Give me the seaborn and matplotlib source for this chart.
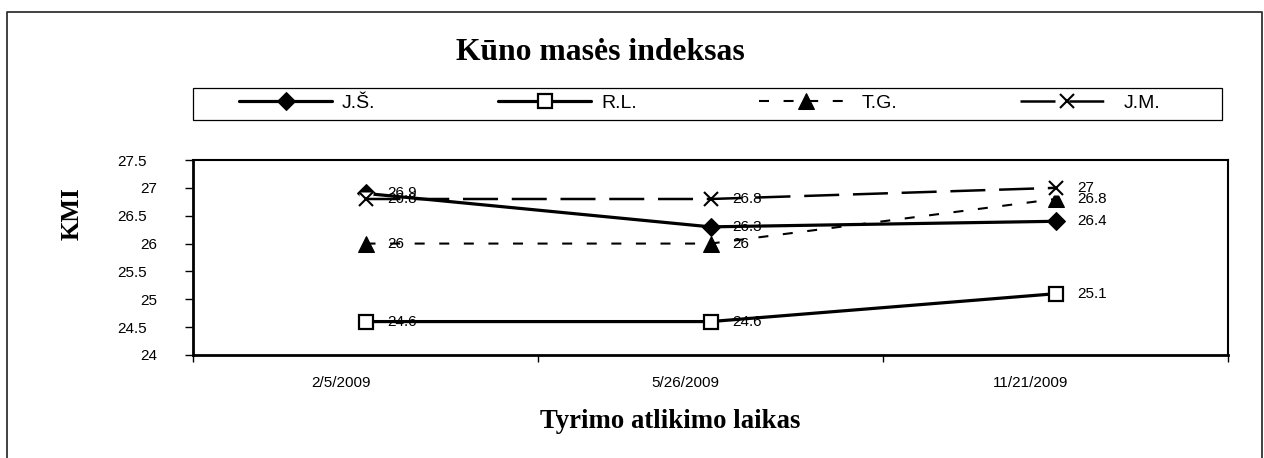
import matplotlib
matplotlib.use("Agg")
import matplotlib.pyplot as plt
import matplotlib.transforms as mtransforms
from matplotlib.lines import Line2D
from matplotlib.patches import Rectangle
import seaborn as sns
import pandas as pd

# ---- data ----
dates = ["2/5/2009", "5/26/2009", "11/21/2009"]
js = [26.9, 26.3, 26.4]
rl = [24.6, 24.6, 25.1]
tg = [26.0, 26.0, 26.8]
jm = [26.8, 26.8, 27.0]
series_names = ["J.Š.", "R.L.", "T.G.", "J.M."]
y_ticks = [24, 24.5, 25, 25.5, 26, 26.5, 27, 27.5]
title = "Kūno masės indeksas"
xlabel = "Tyrimo atlikimo laikas"
ylabel = "KMI"

sns.set_style("white")
plt.rcParams["font.family"] = ["Liberation Sans", "DejaVu Sans"]
for k in ["text.color", "axes.labelcolor", "xtick.color", "ytick.color", "axes.edgecolor"]:
    plt.rcParams[k] = "black"

W, H = 1264, 458
fig = plt.figure(figsize=(W / 100, H / 100), dpi=100)
ax = fig.add_axes([193 / W, 1 - 355 / H, (1228 - 193) / W, (355 - 160) / H])

x = list(range(len(dates)))
styles = [
    dict(data=js, marker="D", ms=9, mfc="black", mec="black", lw=2.3, ls="-"),
    dict(data=rl, marker="s", ms=10, mfc="white", mec="black", mew=1.6, lw=2.3, ls="-"),
    dict(data=tg, marker="^", ms=11, mfc="black", mec="black", lw=1.5, ls=(0, (4.8, 7.0))),
    dict(data=jm, marker="x", ms=10, mfc="none", mec="black", mew=1.5, lw=1.8, ls=(0, (14, 5.5))),
]
for i, (name, st) in enumerate(zip(series_names, styles)):
    st = dict(st)
    vals = st.pop("data")
    df = pd.DataFrame({"x": x, "y": vals})
    if name == "J.M.":
        # white background of the X marker (as in the source chart)
        ax.plot(df["x"], df["y"], ls="none", marker="s", ms=10, mfc="white",
                mec="none", zorder=3 + i)
    sns.lineplot(data=df, x="x", y="y", ax=ax, color="black", label=name,
                 zorder=3 + i, markersize=st.pop("ms"), **st)
    for xi, v in zip(x, vals):
        ax.annotate(f"{v:g}", (xi, v), xytext=(15.5, 0), textcoords="offset points",
                    ha="left", va="center", fontsize=11, zorder=10)

ax.set_xlim(-0.5, len(dates) - 0.5)
ax.set_ylim(24, 27.5)
ax.set_yticks(y_ticks)
ax.set_yticklabels([f"{t:g}" for t in y_ticks])
ax.set_xticks([i - 0.5 for i in range(len(dates) + 1)])
ax.set_xticklabels([])
ax.set_xticks(x, minor=True)
ax.set_xticklabels(dates, minor=True)
ax.tick_params(axis="x", which="major", direction="out", length=5, width=1, color="black")
ax.tick_params(axis="x", which="minor", length=0, pad=15, labelsize=11)
ax.tick_params(axis="y", direction="out", length=6, width=1, color="black", pad=20, labelsize=11)
ax.tick_params(left=True, bottom=True)

for lab in ax.get_xticklabels(minor=True):
    lab.set_transform(lab.get_transform() +
                      mtransforms.ScaledTranslation(-25 / 100, 0, fig.dpi_scale_trans))
for lab, t in zip(ax.get_yticklabels(), y_ticks):
    if t != int(t):
        lab.set_transform(lab.get_transform() +
                          mtransforms.ScaledTranslation(-10 / 100, 0, fig.dpi_scale_trans))

for side in ["left", "bottom"]:
    ax.spines[side].set_linewidth(2.0)
for side in ["top", "right"]:
    ax.spines[side].set_linewidth(1.5)
for s in ax.spines.values():
    s.set_color("black")
ax.grid(False)

ax.set_xlabel(xlabel, family="Liberation Serif", weight="bold", fontsize=19.3)
ax.set_ylabel(ylabel, family="Liberation Serif", weight="bold", fontsize=18)
ax.xaxis.set_label_coords((670 - 193) / 1035, (355 - 428) / 195)
ax.xaxis.label.set_va("baseline")
ax.yaxis.set_label_coords((72 - 193) / 1035, (355 - 214) / 195)
ax.yaxis.label.set_va("center")

fig.text(600 / W, 1 - 60 / H, title, family="Liberation Serif", weight="bold",
         fontsize=22.8, ha="center", va="baseline")

# legend
handles, labels = ax.get_legend_handles_labels()
if ax.get_legend():
    ax.get_legend().remove()
leg = fig.legend(handles, labels, loc="center", ncol=4, mode="expand",
                 bbox_to_anchor=(239 / W, 1 - 120 / H, (1160 - 239) / W, 33 / H),
                 frameon=False, borderpad=0, borderaxespad=0, fontsize=14,
                 handlelength=4.8, handletextpad=0.5)
fig.patches.append(Rectangle((193 / W, 1 - 120 / H), (1222 - 193) / W, 32 / H,
                             transform=fig.transFigure, fill=False, ec="black", lw=0.9))

# outer frame
fig.lines.append(Line2D([7 / W, 7 / W, 1262 / W, 1262 / W], [0, 1 - 12 / H, 1 - 12 / H, 0],
                        transform=fig.transFigure, color="#333333", lw=1.3))

fig.savefig("out.png", dpi=100)
